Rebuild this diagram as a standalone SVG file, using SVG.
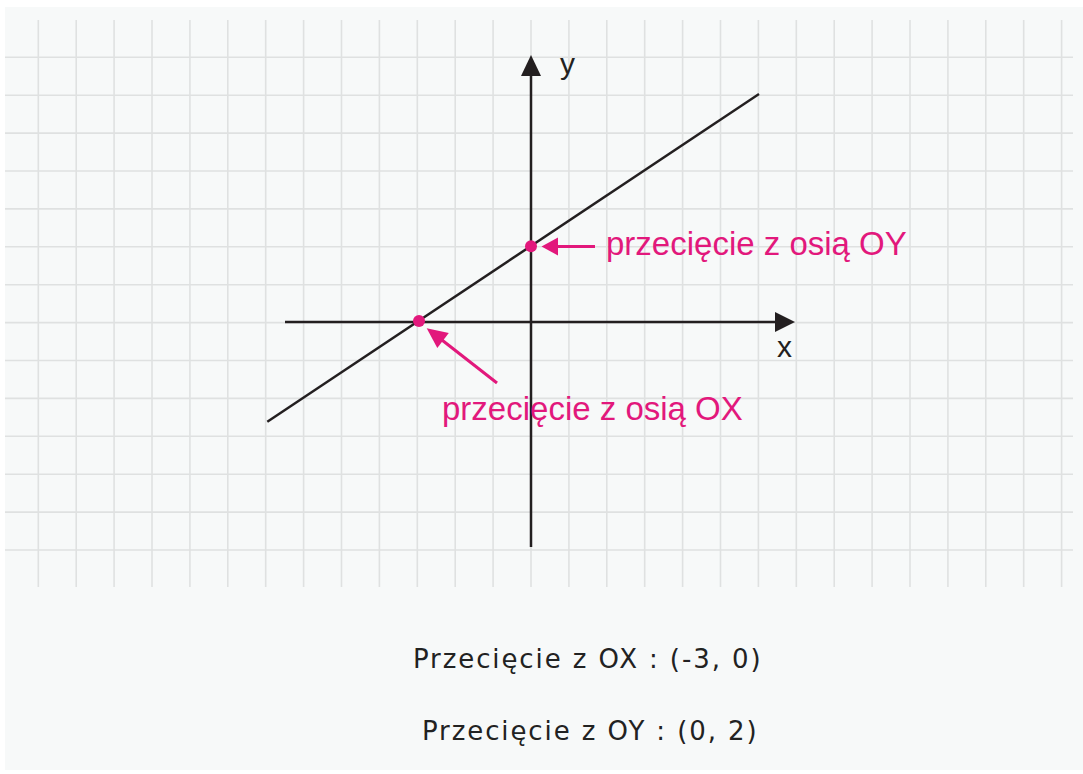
<svg xmlns="http://www.w3.org/2000/svg" width="1083" height="774" viewBox="0 0 1083 774">
  <defs>
    <style>
      .grid line { stroke: #dfe1e1; stroke-width: 1.6; }
      .axis { stroke: #231f20; stroke-width: 2.5; fill: none; }
      .head { fill: #231f20; }
      .mag { fill: #e2187c; }
      .magline { stroke: #e2187c; stroke-width: 3; fill: none; }
      .lbl { font-family: "Liberation Sans", Arial, sans-serif; font-size: 33px; fill: #e2187c; }
      .axlbl { font-family: "Liberation Sans", Arial, sans-serif; font-size: 30px; fill: #231f20; }
      .res { font-family: "DejaVu Sans", Verdana, sans-serif; font-size: 26px; fill: #222222; letter-spacing: 1.9px; }
    </style>
  </defs>
  <rect x="0" y="0" width="1083" height="774" fill="#ffffff"/>
  <rect x="5" y="7" width="1078" height="763" fill="#f7f9f9"/>

  <g id="grid" class="grid">
    <line x1="38.3" y1="20" x2="38.3" y2="587"/>
    <line x1="76.2" y1="20" x2="76.2" y2="587"/>
    <line x1="114.1" y1="20" x2="114.1" y2="587"/>
    <line x1="152" y1="20" x2="152" y2="587"/>
    <line x1="189.9" y1="20" x2="189.9" y2="587"/>
    <line x1="227.8" y1="20" x2="227.8" y2="587"/>
    <line x1="265.7" y1="20" x2="265.7" y2="587"/>
    <line x1="303.6" y1="20" x2="303.6" y2="587"/>
    <line x1="341.5" y1="20" x2="341.5" y2="587"/>
    <line x1="379.4" y1="20" x2="379.4" y2="587"/>
    <line x1="417.3" y1="20" x2="417.3" y2="587"/>
    <line x1="455.2" y1="20" x2="455.2" y2="587"/>
    <line x1="493.1" y1="20" x2="493.1" y2="587"/>
    <line x1="531" y1="20" x2="531" y2="587"/>
    <line x1="568.9" y1="20" x2="568.9" y2="587"/>
    <line x1="606.8" y1="20" x2="606.8" y2="587"/>
    <line x1="644.7" y1="20" x2="644.7" y2="587"/>
    <line x1="682.6" y1="20" x2="682.6" y2="587"/>
    <line x1="720.5" y1="20" x2="720.5" y2="587"/>
    <line x1="758.4" y1="20" x2="758.4" y2="587"/>
    <line x1="796.3" y1="20" x2="796.3" y2="587"/>
    <line x1="834.2" y1="20" x2="834.2" y2="587"/>
    <line x1="872.1" y1="20" x2="872.1" y2="587"/>
    <line x1="910" y1="20" x2="910" y2="587"/>
    <line x1="947.9" y1="20" x2="947.9" y2="587"/>
    <line x1="985.8" y1="20" x2="985.8" y2="587"/>
    <line x1="1023.7" y1="20" x2="1023.7" y2="587"/>
    <line x1="1061.6" y1="20" x2="1061.6" y2="587"/>
    <line x1="5" y1="57.3" x2="1073" y2="57.3"/>
    <line x1="5" y1="95.2" x2="1073" y2="95.2"/>
    <line x1="5" y1="133.1" x2="1073" y2="133.1"/>
    <line x1="5" y1="171" x2="1073" y2="171"/>
    <line x1="5" y1="208.9" x2="1073" y2="208.9"/>
    <line x1="5" y1="246.8" x2="1073" y2="246.8"/>
    <line x1="5" y1="284.7" x2="1073" y2="284.7"/>
    <line x1="5" y1="322.6" x2="1073" y2="322.6"/>
    <line x1="5" y1="360.5" x2="1073" y2="360.5"/>
    <line x1="5" y1="398.4" x2="1073" y2="398.4"/>
    <line x1="5" y1="436.3" x2="1073" y2="436.3"/>
    <line x1="5" y1="474.2" x2="1073" y2="474.2"/>
    <line x1="5" y1="512.1" x2="1073" y2="512.1"/>
    <line x1="5" y1="550" x2="1073" y2="550"/>
  </g>

  <g id="axes">
    <line class="axis" x1="285" y1="322" x2="778" y2="322"/>
    <polygon class="head" points="775,312 795,322 775,332"/>
    <line class="axis" x1="531" y1="547" x2="531" y2="72"/>
    <polygon class="head" points="521,76 531,55 541,76"/>
    <text class="axlbl" x="560" y="74">y</text>
    <text class="axlbl" x="777" y="357">x</text>
  </g>

  <g id="graph-line">
    <line class="axis" x1="267.3" y1="421.7" x2="759" y2="94"/>
  </g>

  <g id="point-ox">
    <circle class="mag" cx="419" cy="321" r="6"/>
  </g>
  <g id="point-oy">
    <circle class="mag" cx="531" cy="246.3" r="6"/>
  </g>

  <g id="connectors">
    <line class="magline" x1="595" y1="246.5" x2="552" y2="246.5"/>
    <polygon class="mag" points="541.5,246.5 558,237.5 558,255.5"/>
    <line class="magline" x1="497" y1="383" x2="440" y2="338.5"/>
    <polygon class="mag" points="426.7,328.3 448.8,333 437.3,348"/>
  </g>

  <g id="label-oy">
    <text class="lbl" x="606" y="255">przecięcie z osią OY</text>
  </g>
  <g id="label-ox">
    <text class="lbl" x="442" y="420">przecięcie z osią OX</text>
  </g>

  <g id="results">
    <text class="res" x="413" y="668">Przecięcie z OX : (-3, 0)</text>
    <text class="res" x="422" y="740">Przecięcie z OY : (0, 2)</text>
  </g>
</svg>
